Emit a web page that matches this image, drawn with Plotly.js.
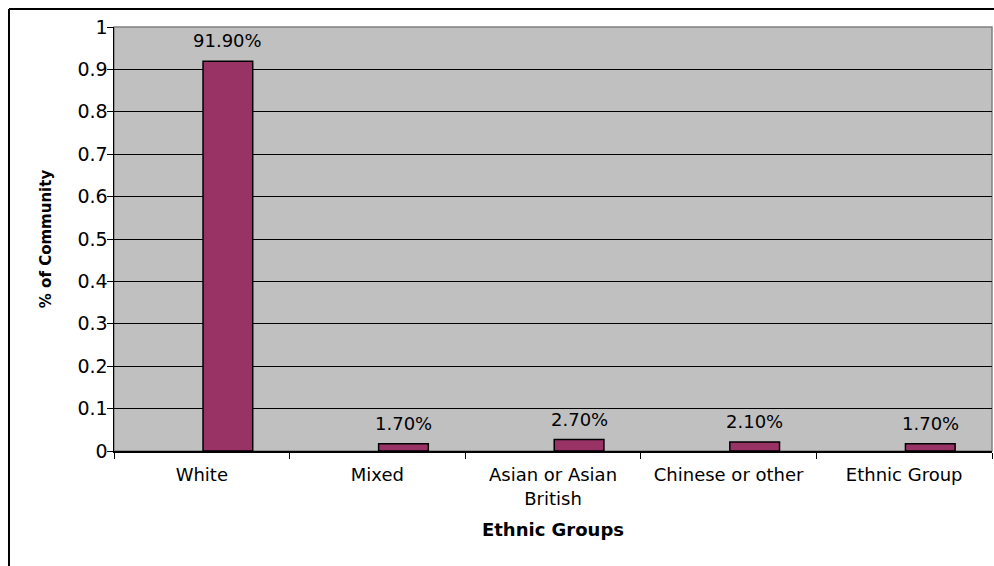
<!DOCTYPE html>
<html>
<head>
<meta charset="utf-8">
<script src="https://cdn.plot.ly/plotly-3.0.1.min.js"></script>
<style>html,body{margin:0;padding:0;background:#fff;}#chart{width:994px;height:566px;}</style>
</head>
<body>
<div id="chart"></div>
<script>
const categories = ['White', 'Mixed', 'Asian or Asian<br>British', 'Chinese or other', 'Ethnic Group'];
const shares = [0.919, 0.017, 0.027, 0.021, 0.017];
const labels = shares.map(v => (v * 100).toFixed(2) + '%');
const yTicks = [0, 0.1, 0.2, 0.3, 0.4, 0.5, 0.6, 0.7, 0.8, 0.9, 1];

const FONT = 'DejaVu Sans, Liberation Sans, Arial, sans-serif';

const trace = {
  type: 'bar',
  x: categories,
  y: shares,
  width: 0.283,
  offset: 0.007,
  marker: {color: '#993366', line: {color: '#000000', width: 1.5}},
  hoverinfo: 'skip'
};

const annotations = categories.map((c, i) => ({
  x: c, y: shares[i], xref: 'x', yref: 'y',
  text: labels[i], showarrow: false,
  xanchor: 'center', yanchor: 'bottom',
  xshift: 26, yshift: 8,
  font: {family: FONT, size: 18, color: '#000'}
}));

const layout = {
  width: 994, height: 566,
  margin: {l: 114, r: 2, t: 27, b: 115},
  paper_bgcolor: '#ffffff',
  plot_bgcolor: '#c0c0c0',
  showlegend: false,
  bargap: 0,
  font: {family: FONT, color: '#000'},
  xaxis: {
    type: 'category',
    showline: true, linecolor: '#000', linewidth: 1.5,
    ticks: 'outside', tickson: 'boundaries', ticklen: 6, tickcolor: '#000', tickwidth: 1,
    ticklabelstandoff: 7,
    showgrid: false,
    tickfont: {family: FONT, size: 18, color: '#000'},
    title: {text: '<b>Ethnic Groups</b>', font: {family: FONT, size: 18, color: '#000'}, standoff: 16}
  },
  yaxis: {
    range: [0, 1], tickvals: yTicks, ticktext: yTicks.map(String),
    showline: true, linecolor: '#000', linewidth: 1.5,
    ticks: 'outside', ticklen: 6, tickcolor: '#000', tickwidth: 1,
    ticklabelstandoff: -5,
    showgrid: true, gridcolor: '#000', gridwidth: 1,
    zeroline: false,
    tickfont: {family: FONT, size: 19, color: '#000'},
    title: {text: '<b>% of Community</b>', font: {family: FONT, size: 15, color: '#000'}, standoff: 22}
  },
  shapes: [
    {type: 'rect', xref: 'paper', yref: 'paper', x0: 0, x1: 1, y0: 0, y1: 1,
     line: {color: '#808080', width: 1.5}, layer: 'below'},
    {type: 'line', xref: 'paper', yref: 'paper', x0: -0.1196, x1: 1.01, y0: 1.0425, y1: 1.0425,
     line: {color: '#000', width: 2}},
    {type: 'line', xref: 'paper', yref: 'paper', x0: -0.1196, x1: -0.1196, y0: 1.0425, y1: -0.3,
     line: {color: '#000', width: 2}}
  ],
  annotations: annotations
};

Plotly.newPlot('chart', [trace], layout, {displayModeBar: false, staticPlot: true});
</script>
</body>
</html>
